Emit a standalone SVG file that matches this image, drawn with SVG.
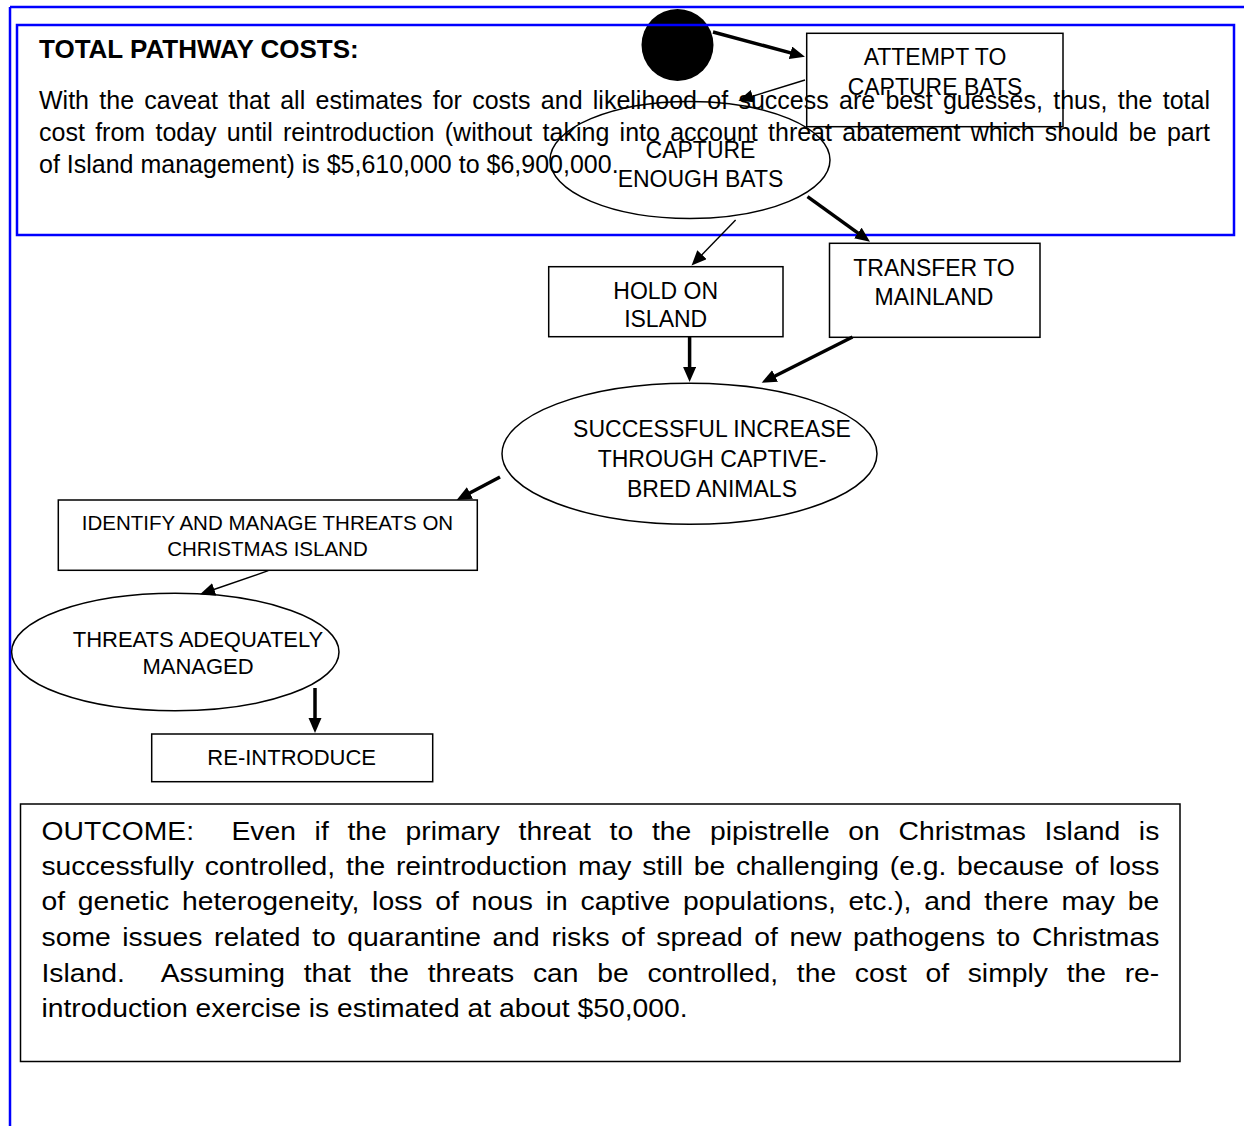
<svg xmlns="http://www.w3.org/2000/svg" width="1250" height="1126" viewBox="0 0 1250 1126">
<style>
text{font-family:"Liberation Sans",Arial,sans-serif;fill:#000}
.para{font-size:25px}
.title{font-size:26px;font-weight:bold}
.out{font-size:26px;white-space:pre}
.n{font-size:23px;text-anchor:middle}
.n22{font-size:22px;text-anchor:middle}
.n20{font-size:20.5px;text-anchor:middle}
.box{fill:none;stroke:#000;stroke-width:1.5}
.blue{fill:none;stroke:#0000ff;stroke-width:2.5}
.thick{stroke:#000;stroke-width:3.5;fill:none;marker-end:url(#ah)}
.thin{stroke:#000;stroke-width:1.4;fill:none;marker-end:url(#ah)}
</style>
<defs>
<marker id="ah" markerUnits="userSpaceOnUse" markerWidth="16" markerHeight="14" refX="5" refY="6.5" orient="auto">
<path d="M0,0 L15,6.5 L0,13 z" fill="#000"/>
</marker>
</defs>
<rect width="1250" height="1126" fill="#fff"/>

<g id="total-costs">
<text class="title" x="39" y="58">TOTAL PATHWAY COSTS:</text>
<text class="para" x="39" y="109" word-spacing="3.35" textLength="1171" lengthAdjust="spacing">With the caveat that all estimates for costs and likelihood of success are best guesses, thus, the total</text>
<text class="para" x="39" y="141" word-spacing="3.36" textLength="1171" lengthAdjust="spacing">cost from today until reintroduction (without taking into account threat abatement which should be part</text>
<text class="para" x="39" y="173">of Island management) is $5,610,000 to $6,900,000.</text>
</g>

<g id="start">
<circle cx="677.5" cy="45" r="36" fill="#000"/>
</g>

<g id="frame">
<line class="blue" x1="10" y1="7" x2="1244" y2="7"/>
<line class="blue" x1="10" y1="7" x2="10" y2="1126"/>
<rect class="blue" x="17" y="25" width="1217" height="210"/>
</g>

<g id="connectors">
<line class="thick" x1="713" y1="32" x2="795.3" y2="54.1"/>
<line class="thin" x1="805" y1="80" x2="747.9" y2="97.7"/>
<line class="thin" x1="735.6" y1="220" x2="698.5" y2="258.3"/>
<line class="thick" x1="807.5" y1="196.7" x2="861.9" y2="235.9"/>
<line class="thick" x1="689.6" y1="337" x2="689.6" y2="372"/>
<line class="thick" x1="852.5" y1="337" x2="770.6" y2="378.2"/>
<line class="thick" x1="500" y1="477" x2="465.5" y2="495.3"/>
<line class="thin" x1="268.3" y1="570.7" x2="209.5" y2="591"/>
<line class="thick" x1="315" y1="688" x2="315" y2="723"/>
</g>

<g id="attempt">
<rect class="box" x="806.7" y="33.3" width="256.3" height="93.4"/>
<text class="n" x="935" y="65">ATTEMPT TO</text>
<text class="n" x="935" y="95">CAPTURE BATS</text>
</g>

<g id="capture">
<ellipse class="box" cx="690" cy="160" rx="140" ry="58.5"/>
<text class="n" x="700.5" y="157.5">CAPTURE</text>
<text class="n" x="700.5" y="187">ENOUGH BATS</text>
</g>

<g id="hold">
<rect class="box" x="548.7" y="266.7" width="234.3" height="70"/>
<text class="n" x="665.7" y="299">HOLD ON</text>
<text class="n" x="665.7" y="327">ISLAND</text>
</g>

<g id="transfer">
<rect class="box" x="829.5" y="243.3" width="210.5" height="94"/>
<text class="n" x="934" y="275.7">TRANSFER TO</text>
<text class="n" x="934" y="305">MAINLAND</text>
</g>

<g id="successful">
<ellipse class="box" cx="689.5" cy="453.7" rx="187.5" ry="70.5"/>
<text class="n" x="712" y="437">SUCCESSFUL INCREASE</text>
<text class="n" x="712" y="467">THROUGH CAPTIVE-</text>
<text class="n" x="712" y="497">BRED ANIMALS</text>
</g>

<g id="identify">
<rect class="box" x="58.3" y="500" width="419" height="70.3"/>
<text class="n20" x="267.5" y="530">IDENTIFY AND MANAGE THREATS ON</text>
<text class="n20" x="267.5" y="556">CHRISTMAS ISLAND</text>
</g>

<g id="threats">
<ellipse class="box" cx="175.3" cy="652" rx="163.7" ry="58.7"/>
<text class="n22" x="198" y="646.7">THREATS ADEQUATELY</text>
<text class="n22" x="198" y="674.3">MANAGED</text>
</g>

<g id="reintroduce">
<rect class="box" x="151.7" y="734" width="281" height="47.7"/>
<text class="n22" x="291.7" y="765">RE-INTRODUCE</text>
</g>

<g id="outcome">
<rect class="box" x="20.5" y="804" width="1159.5" height="257.5"/>
<g transform="translate(41.5,0) scale(1.0885,1)">
<text class="out" x="0" y="840" word-spacing="9.9" textLength="1026.9" lengthAdjust="spacing">OUTCOME:  Even if the primary threat to the pipistrelle on Christmas Island is</text>
<text class="out" x="0" y="875" word-spacing="2.6" textLength="1026.9" lengthAdjust="spacing">successfully controlled, the reintroduction may still be challenging (e.g. because of loss</text>
<text class="out" x="0" y="910" word-spacing="4.5" textLength="1026.9" lengthAdjust="spacing">of genetic heterogeneity, loss of nous in captive populations, etc.), and there may be</text>
<text class="out" x="0" y="946.5" word-spacing="3.4" textLength="1026.9" lengthAdjust="spacing">some issues related to quarantine and risks of spread of new pathogens to Christmas</text>
<text class="out" x="0" y="982" word-spacing="9.9" textLength="1026.9" lengthAdjust="spacing">Island.  Assuming that the threats can be controlled, the cost of simply the re-</text>
<text class="out" x="0" y="1017.5">introduction exercise is estimated at about $50,000.</text>
</g>
</g>
</svg>
